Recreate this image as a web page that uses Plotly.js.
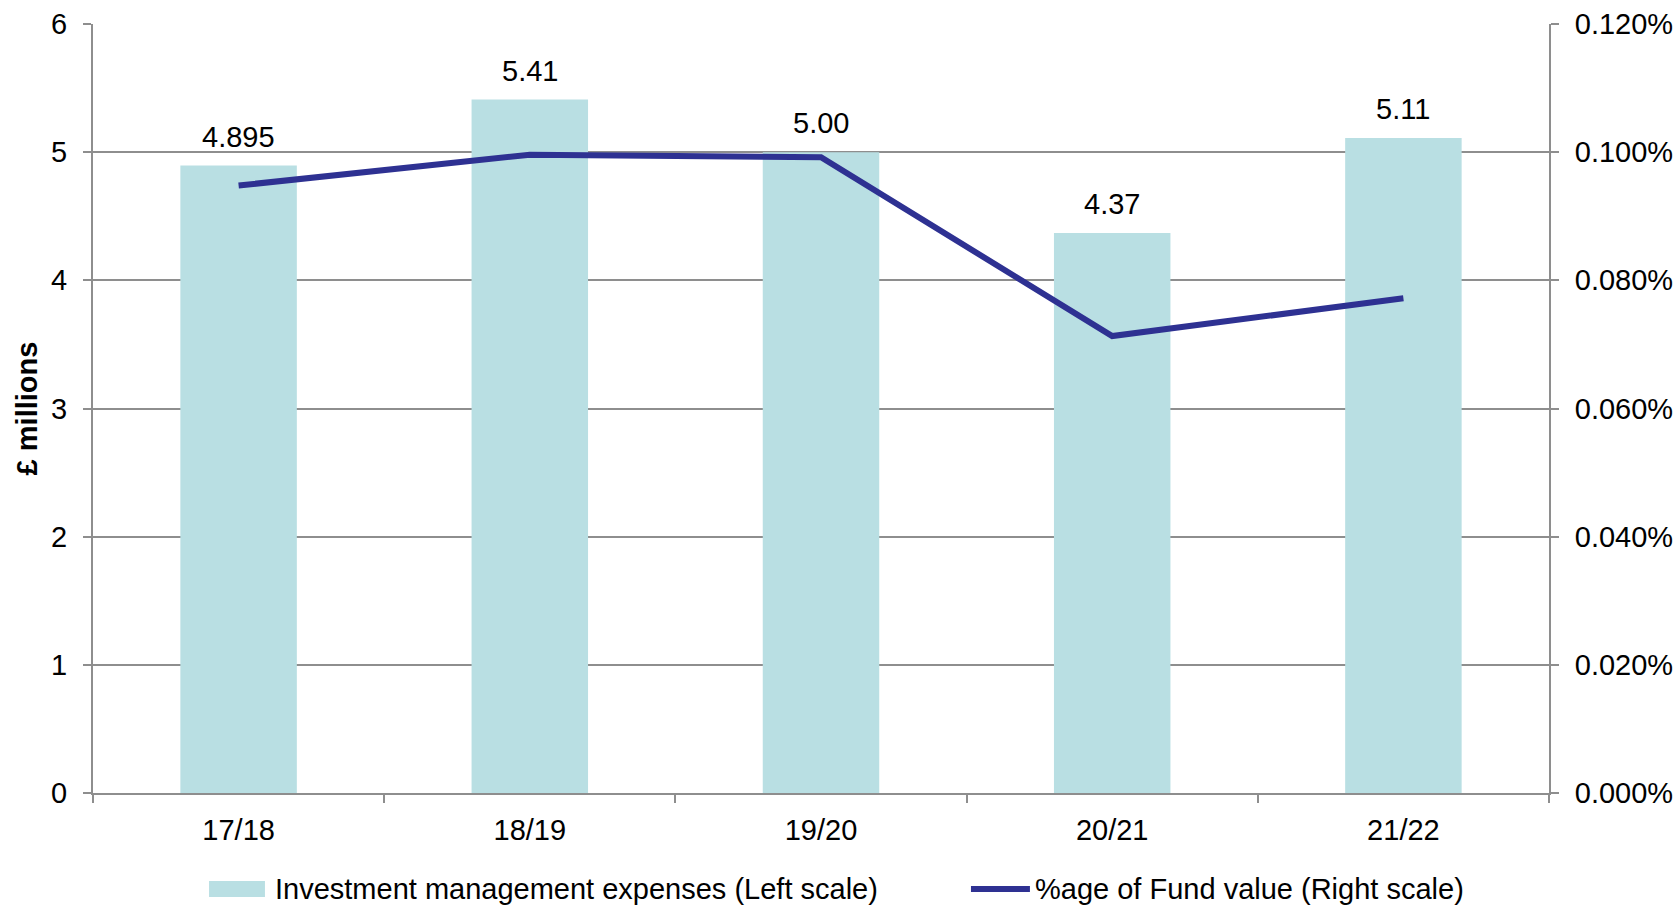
<!DOCTYPE html>
<html>
<head>
<meta charset="utf-8">
<script src="https://cdn.plot.ly/plotly-3.0.1.min.js"></script>
<style>html,body{margin:0;padding:0;background:#fff;}#chart{width:1678px;height:905px;}</style>
</head>
<body>
<div id="chart"></div>
<script>
const categories = ["17/18", "18/19", "19/20", "20/21", "21/22"];
const expenses = [4.895, 5.41, 5.00, 4.37, 5.11];
const expenseLabels = ["4.895", "5.41", "5.00", "4.37", "5.11"];
const pctFundValue = [0.0948, 0.0996, 0.0992, 0.0713, 0.0772];
const leftTicks = [0, 1, 2, 3, 4, 5, 6];
const rightTicks = [0, 0.02, 0.04, 0.06, 0.08, 0.10, 0.12];
const rightTickLabels = ["0.000%", "0.020%", "0.040%", "0.060%", "0.080%", "0.100%", "0.120%"];
const seriesNames = ["Investment management expenses (Left scale)", "%age of Fund value (Right scale)"];

const FONT = "Liberation Sans, Arial, sans-serif";
const FS = 29;
const grey = "#8e8e8e";
const barColor = "#b9dfe3";
const lineColor = "#2e3192";

const traces = [
  {
    type: "bar",
    name: seriesNames[0],
    x: categories,
    y: expenses,
    marker: {color: barColor},
    hoverinfo: "x+y"
  },
  {
    type: "scatter",
    mode: "lines",
    name: seriesNames[1],
    x: categories,
    y: pctFundValue,
    yaxis: "y2",
    line: {color: lineColor, width: 6},
    hoverinfo: "x+y"
  }
];

// value labels above the bars
const annotations = categories.map((c, i) => ({
  x: c,
  y: expenses[i],
  xref: "x",
  yref: "y",
  text: expenseLabels[i],
  showarrow: false,
  yanchor: "bottom",
  yshift: 11,
  font: {family: FONT, size: FS, color: "#000"}
}));

// legend drawn below the plot (wide swatch + line, as in the original)
const legendY = -0.1248;
annotations.push(
  {xref: "paper", yref: "paper", x: 0.1236, y: legendY, xanchor: "left", yanchor: "middle",
   text: seriesNames[0], showarrow: false, font: {family: FONT, size: FS, color: "#000"}},
  {xref: "paper", yref: "paper", x: 0.6456, y: legendY, xanchor: "left", yanchor: "middle",
   text: seriesNames[1], showarrow: false, font: {family: FONT, size: FS, color: "#000"}}
);
const shapes = [
  {type: "rect", xref: "paper", yref: "paper", x0: 0.0797, x1: 0.1181, y0: legendY - 0.0104, y1: legendY + 0.0104,
   fillcolor: barColor, line: {width: 0}},
  {type: "line", xref: "paper", yref: "paper", x0: 0.6030, x1: 0.6435, y0: legendY, y1: legendY,
   line: {color: lineColor, width: 6}}
];

const layout = {
  width: 1678,
  height: 905,
  margin: {l: 93, r: 129, t: 24, b: 112},
  paper_bgcolor: "#fff",
  plot_bgcolor: "#fff",
  font: {family: FONT, size: FS, color: "#000"},
  bargap: 0.6,
  showlegend: false,
  annotations: annotations,
  shapes: shapes,
  xaxis: {
    type: "category",
    showgrid: false,
    showline: true,
    linecolor: grey,
    linewidth: 2,
    ticks: "outside",
    tickson: "boundaries",
    ticklen: 8,
    tickcolor: grey,
    tickwidth: 2,
    ticklabelstandoff: 10,
    tickfont: {family: FONT, size: FS, color: "#000"},
    zeroline: false
  },
  yaxis: {
    range: [0, 6],
    tickvals: leftTicks,
    showgrid: true,
    gridcolor: grey,
    gridwidth: 2,
    showline: true,
    linecolor: grey,
    linewidth: 2,
    ticks: "outside",
    ticklen: 8,
    tickcolor: grey,
    tickwidth: 2,
    ticklabelstandoff: 10,
    tickfont: {family: FONT, size: FS, color: "#000"},
    zeroline: false,
    title: {text: "<b>£ millions</b>", font: {family: FONT, size: FS, color: "#000"}, standoff: 5}
  },
  yaxis2: {
    overlaying: "y",
    side: "right",
    range: [0, 0.12],
    tickvals: rightTicks,
    ticktext: rightTickLabels,
    showgrid: false,
    showline: true,
    linecolor: grey,
    linewidth: 2,
    ticks: "outside",
    ticklen: 8,
    tickcolor: grey,
    tickwidth: 2,
    ticklabelstandoff: 10,
    tickfont: {family: FONT, size: FS, color: "#000"},
    zeroline: false
  }
};

Plotly.newPlot("chart", traces, layout, {displayModeBar: false, staticPlot: true});
</script>
</body>
</html>
